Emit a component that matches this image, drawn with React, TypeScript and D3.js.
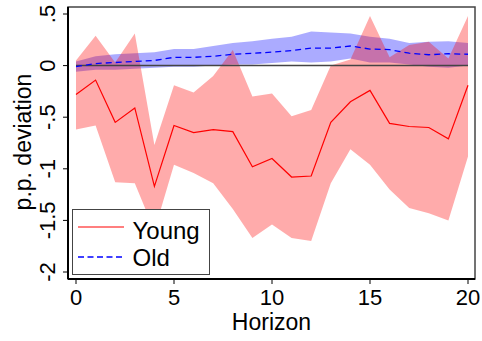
import * as d3 from 'd3';

const horizon = d3.range(0, 21);

const youngIrf = [-0.28, -0.14, -0.55, -0.41, -1.17, -0.58, -0.65, -0.62, -0.64, -0.98, -0.9, -1.08, -1.07, -0.55, -0.35, -0.24, -0.56, -0.59, -0.6, -0.71, -0.19];
const youngUpper = [0.05, 0.29, 0.03, 0.31, -0.77, -0.19, -0.26, -0.1, 0.15, -0.3, -0.27, -0.49, -0.43, 0.0, 0.06, 0.48, 0.08, 0.2, 0.23, 0.07, 0.48];
const youngLower = [-0.62, -0.58, -1.13, -1.14, -1.6, -0.96, -1.04, -1.14, -1.39, -1.67, -1.54, -1.67, -1.7, -1.14, -0.81, -0.96, -1.2, -1.38, -1.43, -1.5, -0.88];

const oldIrf = [-0.01, 0.02, 0.03, 0.04, 0.05, 0.08, 0.08, 0.09, 0.11, 0.12, 0.13, 0.145, 0.17, 0.17, 0.19, 0.16, 0.155, 0.12, 0.105, 0.115, 0.11];
const oldUpper = [0.04, 0.09, 0.11, 0.12, 0.13, 0.16, 0.16, 0.19, 0.22, 0.235, 0.26, 0.28, 0.33, 0.32, 0.31, 0.28, 0.26, 0.22, 0.23, 0.235, 0.22];
const oldLower = [-0.06, -0.04, -0.04, -0.03, -0.02, -0.01, -0.01, 0.0, 0.01, 0.01, 0.025, 0.04, 0.03, 0.04, 0.07, 0.03, 0.03, 0.01, -0.01, -0.02, 0.0];

const xTicks = [0, 5, 10, 15, 20];
const yTicks = [0.5, 0, -0.5, -1, -1.5, -2];
const yTickLabels = ['.5', '0', '-.5', '-1', '-1.5', '-2'];

const W = 482;
const H = 341;
const font = 'Liberation Sans, Arial, sans-serif';

export default function App() {
  const x = d3.scaleLinear().domain([0, 20]).range([76, 468]);
  const y = d3.scaleLinear().domain([-2, 0.5]).range([272, 14]);

  const band = (lo: number[], hi: number[]) =>
    d3.area<number>()
      .x(d => x(d))
      .y0(d => y(lo[d]))
      .y1(d => y(hi[d]))(horizon) || '';

  const line = (vals: number[]) =>
    d3.line<number>()
      .x(d => x(d))
      .y(d => y(vals[d]))(horizon) || '';

  const frame = { left: 68, top: 7, right: 475, bottom: 279 };

  return (
    <div style={{ position: 'fixed', left: 0, top: 0 }}>
      <svg width={W} height={H} style={{ display: 'block', background: '#fff' }}>
        <rect x={0} y={0} width={W} height={H} fill="#fff" />
        {/* confidence bands */}
        <path d={band(oldLower, oldUpper)} fill="#0000ff" fillOpacity={0.33} />
        <path d={band(youngLower, youngUpper)} fill="#ff0000" fillOpacity={0.33} />

        {/* zero line */}
        <line x1={x(0)} x2={x(20)} y1={y(0)} y2={y(0)} stroke="#444" strokeWidth={1.5} />

        <path d={line(youngIrf)} fill="none" stroke="#ff0000" strokeWidth={1.2} />
        <path d={line(oldIrf)} fill="none" stroke="#0000ff" strokeWidth={1.3} strokeDasharray="6,4" />

        {/* frame */}
        <rect x={frame.left} y={frame.top} width={frame.right - frame.left} height={frame.bottom - frame.top}
          fill="none" stroke="#444" strokeWidth={1.5} />
        <line x1={frame.left} x2={frame.left} y1={frame.top} y2={frame.bottom} stroke="#000" strokeWidth={2} />
        <line x1={frame.left} x2={frame.right} y1={frame.bottom} y2={frame.bottom} stroke="#000" strokeWidth={2} />

        {/* y axis */}
        {yTicks.map((t, i) => (
          <g key={t}>
            <line x1={frame.left - 5} x2={frame.left} y1={y(t)} y2={y(t)} stroke="#000" strokeWidth={1} />
            <text transform={`translate(${55},${y(t)}) rotate(-90)`} textAnchor="middle"
              fontFamily={font} fontSize={22}>{yTickLabels[i]}</text>
          </g>
        ))}
        <text transform={`translate(${31},${142}) rotate(-90)`} textAnchor="middle"
          fontFamily={font} fontSize={23}>p.p. deviation</text>

        {/* x axis */}
        {xTicks.map(t => (
          <g key={t}>
            <line x1={x(t)} x2={x(t)} y1={frame.bottom} y2={frame.bottom + 5} stroke="#000" strokeWidth={1} />
            <text x={x(t)} y={305} textAnchor="middle" fontFamily={font} fontSize={22}>{t}</text>
          </g>
        ))}
        <text x={271.5} y={330} textAnchor="middle" fontFamily={font} fontSize={23}>Horizon</text>

        {/* legend */}
        <rect x={72.5} y={209.5} width={137} height={65} fill="#fff" stroke="#444" strokeWidth={1} />
        <line x1={78} x2={124} y1={227} y2={227} stroke="#ff0000" strokeWidth={1.2} />
        <text x={132.5} y={239} fontFamily={font} fontSize={24}>Young</text>
        <line x1={78} x2={124} y1={257} y2={257} stroke="#0000ff" strokeWidth={1.3} strokeDasharray="6,3.5" />
        <text x={132.5} y={265.5} fontFamily={font} fontSize={24}>Old</text>
      </svg>
    </div>
  );
}
